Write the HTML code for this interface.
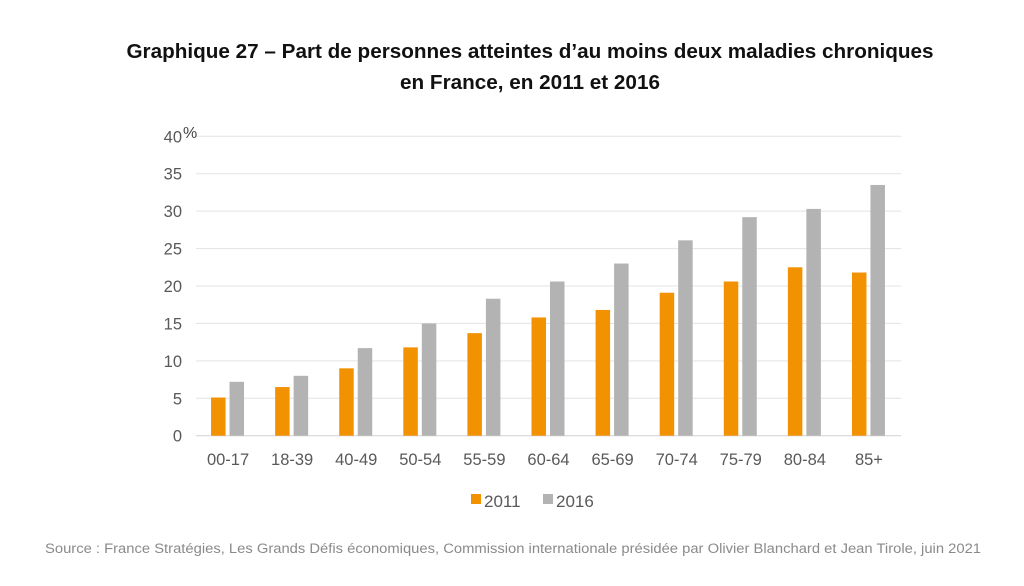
<!DOCTYPE html>
<html><head><meta charset="utf-8"><style>
body{margin:0;background:#fff;width:1024px;height:581px;overflow:hidden;font-family:"Liberation Sans",sans-serif}
</style></head><body>
<svg width="1024" height="581">
<text x="530" y="58" text-anchor="middle" font-size="20.7" font-weight="bold" fill="#111">Graphique 27 – Part de personnes atteintes d’au moins deux maladies chroniques</text>
<text x="530" y="89" text-anchor="middle" font-size="20.7" font-weight="bold" fill="#111">en France, en 2011 et 2016</text>
<g id="grid"></g><g id="bars"></g><g id="labels"></g>
<text x="183" y="138" font-size="16" fill="#444">%</text>
<rect x="471" y="494" width="10" height="10" fill="#f39200"/>
<text x="484" y="507" font-size="17" fill="#595959">2011</text>
<rect x="543" y="494" width="10" height="10" fill="#b3b3b3"/>
<text x="556" y="507" font-size="17" fill="#595959">2016</text>
<text x="45" y="553" font-size="13.5" fill="#8a8a8a" textLength="936" lengthAdjust="spacingAndGlyphs">Source : France Stratégies, Les Grands Défis économiques, Commission internationale présidée par Olivier Blanchard et Jean Tirole, juin 2021</text>
</svg>
<script>
const categories=["00-17","18-39","40-49","50-54","55-59","60-64","65-69","70-74","75-79","80-84","85+"];
const values2011=[5.1,6.5,9.0,11.8,13.7,15.8,16.8,19.1,20.6,22.5,21.8];
const values2016=[7.2,8.0,11.7,15.0,18.3,20.6,23.0,26.1,29.2,30.3,33.5];
const yTicks=[0,5,10,15,20,25,30,35,40];
const NS="http://www.w3.org/2000/svg";
const x0=196,x1=901,yb=435.7,yt=136.3,ymax=40;
const y=v=>yb-(yb-yt)*v/ymax;
const band=(x1-x0)/categories.length;
const cx=i=>x0+band*(i+0.5);
function mk(tag,attrs,parent){const e=document.createElementNS(NS,tag);for(const k in attrs)e.setAttribute(k,attrs[k]);document.getElementById(parent).appendChild(e);return e;}
yTicks.forEach(t=>{
 const l=mk('line',{x1:x0,x2:x1,y1:y(t),y2:y(t),stroke:t===0?'#d0d0d0':'#e3e3e3','stroke-width':1},'grid');
 
 
 const tx=mk('text',{x:182,y:y(t)+6,'text-anchor':'end','font-size':16.5,fill:'#595959'},'labels');
 tx.textContent=t;
 
 
});
categories.forEach((c,i)=>{
 const a=mk('rect',{x:cx(i)-17,y:y(values2011[i]),width:14.5,height:yb-y(values2011[i]),fill:'#f39200'},'bars');
 
 
 const b=mk('rect',{x:cx(i)+1.5,y:y(values2016[i]),width:14.5,height:yb-y(values2016[i]),fill:'#b3b3b3'},'bars');
 
 
 const t=mk('text',{x:cx(i),y:465,'text-anchor':'middle','font-size':16.5,fill:'#595959'},'labels');
 t.textContent=c;
 
 
});
</script>
</body></html>
